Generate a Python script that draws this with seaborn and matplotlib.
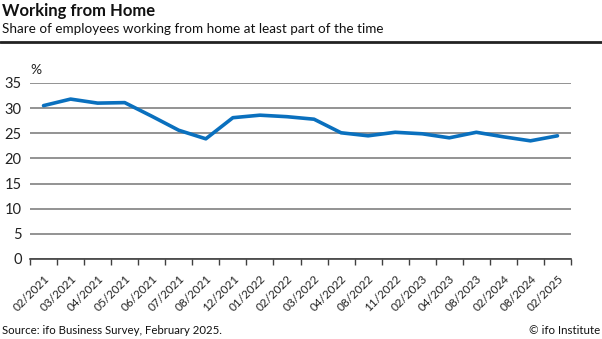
import matplotlib
matplotlib.use("Agg")
import matplotlib.pyplot as plt
import seaborn as sns
import pandas as pd
import numpy as np

months = ["02/2021", "03/2021", "04/2021", "05/2021", "06/2021", "07/2021", "08/2021",
          "12/2021", "01/2022", "02/2022", "03/2022", "04/2022", "08/2022", "11/2022",
          "02/2023", "04/2023", "08/2023", "02/2024", "08/2024", "02/2025"]
share = [30.5, 31.8, 31.0, 31.1, 28.4, 25.6, 23.9, 28.1, 28.6, 28.3, 27.8, 25.1, 24.5,
         25.2, 24.9, 24.1, 25.2, 24.3, 23.5, 24.5]
yticks = [0, 5, 10, 15, 20, 25, 30, 35]

sns.set_theme(style="white")
plt.rcParams['font.family'] = ['Lato', 'DejaVu Sans']

df = pd.DataFrame({"month": months, "share": share, "pos": np.arange(len(months))})

fig = plt.figure(figsize=(6.02, 3.39), dpi=100)
ax = fig.add_axes([30/602, 1-259/339, 541/602, 176/339])

sns.lineplot(data=df, x="pos", y="share", ax=ax, color="#0A70BE", linewidth=2.6, sort=False)

ax.set_ylim(0, 35)
ax.set_xlim(-0.5, len(months) - 0.5)
ax.set_yticks(yticks)
ax.set_yticklabels([str(v) for v in yticks], fontsize=10.5, color="#222222")
ax.yaxis.grid(True, color="#808080", linewidth=1.2)
ax.set_axisbelow(True)
ax.tick_params(axis="y", length=0, pad=6)

ax.set_xticks(np.arange(len(months)))
ax.set_xticklabels(months, rotation=45, ha="right", rotation_mode="anchor", fontsize=8.5, color="#222222")
ax.set_xticks(np.arange(-0.5, len(months)), minor=True)
ax.tick_params(axis="x", which="major", length=0, pad=10)
ax.tick_params(axis="x", which="minor", length=4, width=1, color="#404040", direction="out", bottom=True)

for s in ["top", "right", "left"]:
    ax.spines[s].set_visible(False)
ax.spines["bottom"].set_color("#404040")
ax.spines["bottom"].set_linewidth(1.2)
ax.set_xlabel("")
ax.set_ylabel("")

ax.text(0.0, 1.04, "%", transform=ax.transAxes, fontsize=10, color="#222222", va="bottom", ha="left")

fig.text(2/602, 1-11/339, "Working from Home", fontsize=12, fontweight="bold", va="center", ha="left", color="#111111")
fig.text(2/602, 1-29/339, "Share of employees working from home at least part of the time", fontsize=9.7, va="center", ha="left", color="#111111")
fig.add_artist(plt.Line2D([0, 1], [1-42/339, 1-42/339], transform=fig.transFigure, color="#222222", linewidth=2))

fig.text(2/602, 1-330/339, "Source: ifo Business Survey, February 2025.", fontsize=8.2, va="center", ha="left", color="#111111")
fig.text(600/602, 1-330/339, "© ifo Institute", fontsize=8.3, va="center", ha="right", color="#111111")

fig.savefig("out.png", dpi=100)
